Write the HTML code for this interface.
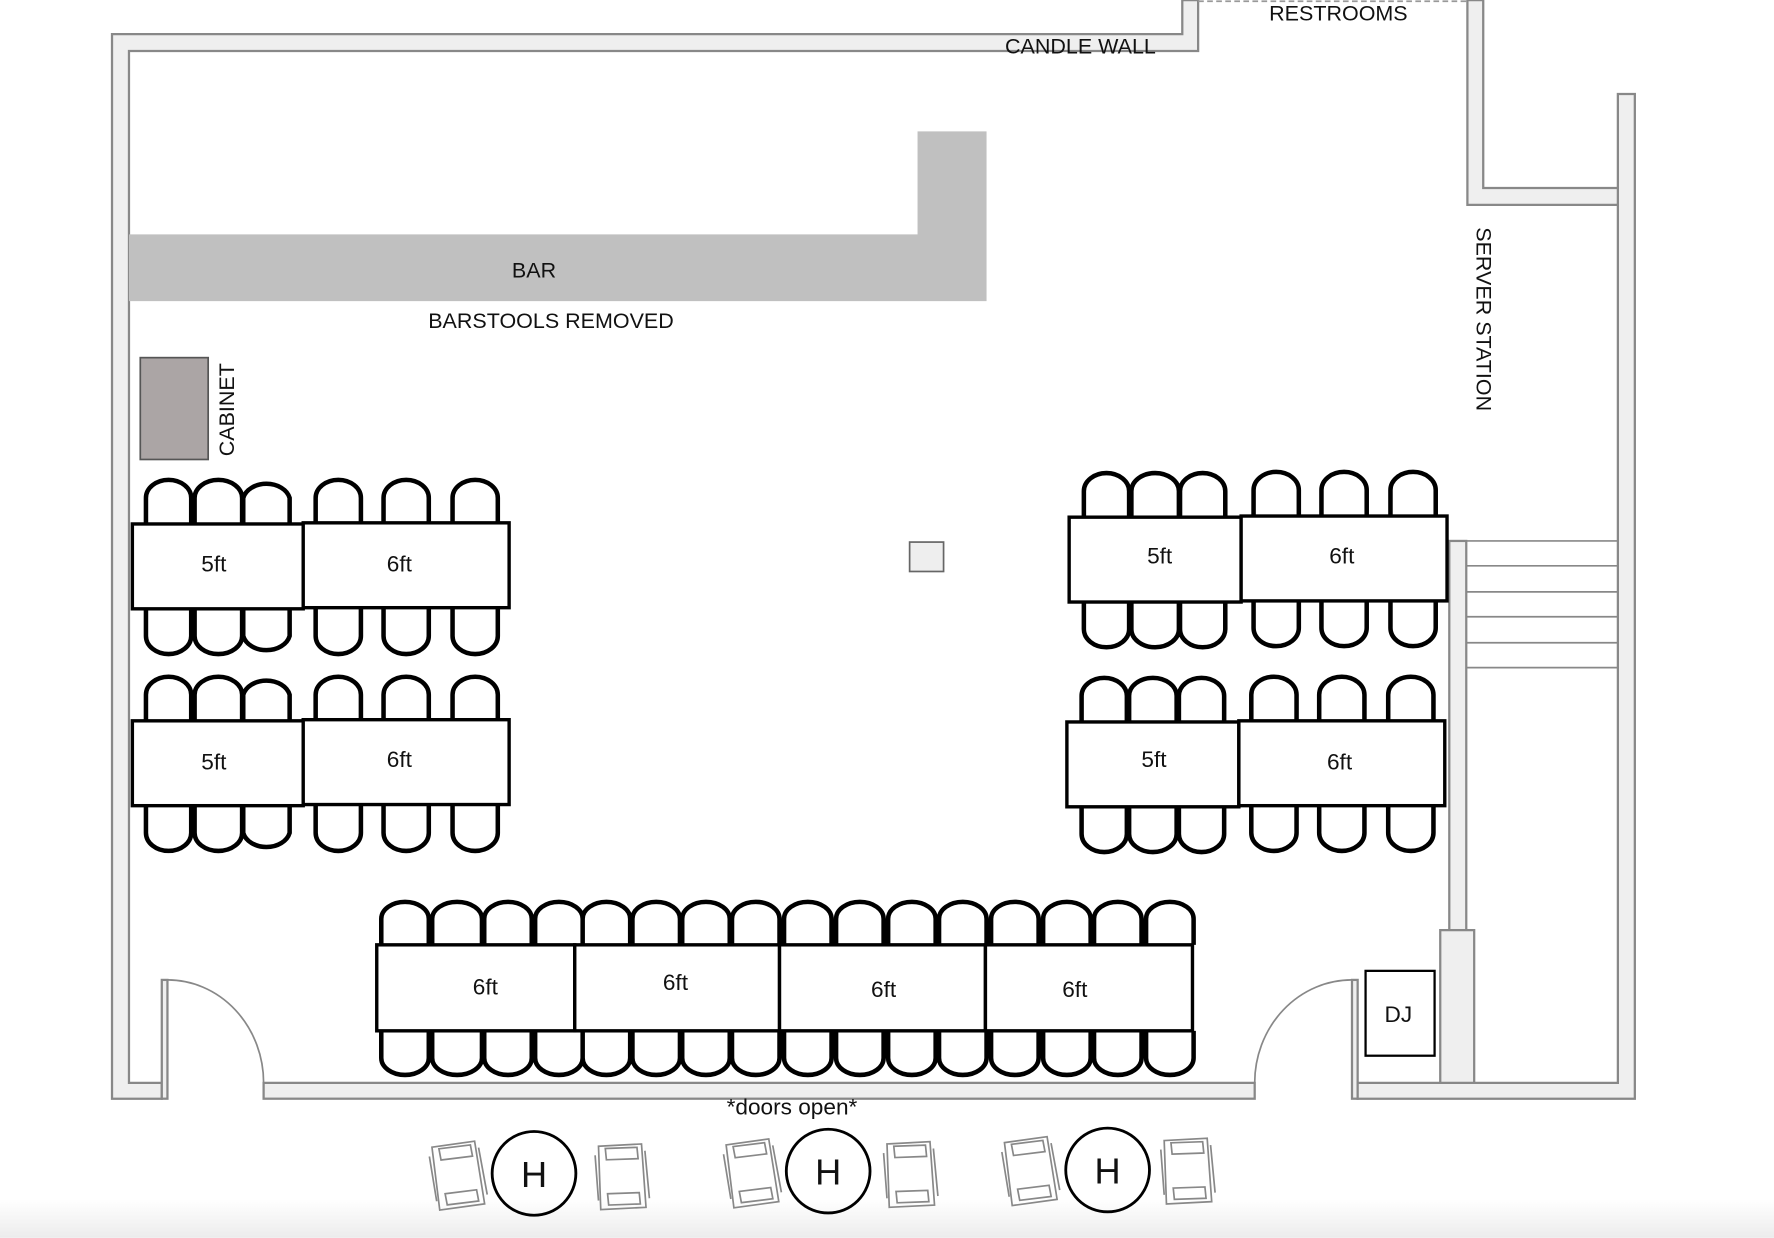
<!DOCTYPE html>
<html><head><meta charset="utf-8"><style>html,body{margin:0;padding:0;background:#fff}svg{display:block}text{font-family:"Liberation Sans",sans-serif;fill:#111}</style></head><body>
<svg width="1774" height="1238" viewBox="0 0 1568 1094" xmlns="http://www.w3.org/2000/svg">
<defs>
<linearGradient id="fade" x1="0" y1="0" x2="0" y2="1"><stop offset="0" stop-color="#fff"/><stop offset="1" stop-color="#ececec"/></linearGradient>
<g id="ac" fill="none" stroke="#888" stroke-width="1.5">
<path d="M-20,-26 L18,-28 L22,28 L-18,30 Z"/><path d="M-14,-24 L14,-25 L15,-15 L-13,-14 Z"/><path d="M-12,16 L16,15 L17,25 L-11,26 Z"/><path d="M-23,-18 L-20,22 M21,-22 L25,20"/>
</g>
</defs>
<rect x="0" y="1060" width="1568" height="34" fill="url(#fade)"/>
<g fill="#efefef" stroke="#888" stroke-width="2">
<path d="M99,30 H1045 V0 H1059 V45 H114 V957 H143 V971 H99 Z"/>
<rect x="143" y="866" width="5" height="105"/>
<rect x="233" y="957" width="876" height="14"/>
<rect x="1195" y="866" width="5" height="105"/>
<path d="M1200,957 H1430 V83 H1445 V971 H1200 Z"/>
<path d="M1297,0 H1311 V166 H1430 V181 H1297 Z"/>
<rect x="1281" y="478" width="15" height="344"/>
<rect x="1273" y="822" width="30" height="135"/>
</g>
<line x1="1059" y1="1" x2="1297" y2="1" stroke="#999" stroke-width="1.5" stroke-dasharray="5,3"/>
<g stroke="#888" stroke-width="1.5" fill="none">
<path d="M1296,478 H1430 M1296,500 H1430 M1296,523 H1430 M1296,545 H1430 M1296,568 H1430 M1296,590 H1430"/>
<path d="M148,866 A85,91 0 0 1 233,957"/>
<path d="M1195,866 A86,91 0 0 0 1109,957"/>
</g>
<path d="M114,207 H811 V116 H872 V266 H114 Z" fill="#c0c0c0"/>
<text x="472" y="245" font-size="19" text-anchor="middle">BAR</text>
<text x="487" y="290" font-size="19" text-anchor="middle">BARSTOOLS REMOVED</text>
<text x="955" y="47" font-size="19" text-anchor="middle">CANDLE WALL</text>
<text x="1183" y="18" font-size="19" text-anchor="middle">RESTROOMS</text>
<rect x="124" y="316" width="60" height="90" fill="#aba5a5" stroke="#555" stroke-width="1.5"/>
<text transform="translate(207,362) rotate(-90)" font-size="19" text-anchor="middle">CABINET</text>
<text transform="translate(1305,282) rotate(90)" font-size="19" text-anchor="middle">SERVER STATION</text>
<rect x="804" y="479" width="30" height="26" fill="#eee" stroke="#666" stroke-width="1.5"/>
<g fill="#fff" stroke="#000" stroke-width="4">
<path d="M129,463V440A20,16 0 0 1 169,440V463M172,463V440A21,16 0 0 1 214,440V463M215,463V440A21,16 0 0 1 256,440V463"/>
<path d="M279,463V440A20,16 0 0 1 319,440V463M339,463V440A20,16 0 0 1 379,440V463M400,463V440A20,16 0 0 1 440,440V463"/>
<path d="M129,538V562A20,16 0 0 0 169,562V538M172,538V562A21,16 0 0 0 214,562V538M215,538V562A21,16 0 0 0 256,562V538"/>
<path d="M279,538V562A20,16 0 0 0 319,562V538M339,538V562A20,16 0 0 0 379,562V538M400,538V562A20,16 0 0 0 440,562V538"/>
<path d="M129,637V614A20,16 0 0 1 169,614V637M172,637V614A21,16 0 0 1 214,614V637M215,637V614A21,16 0 0 1 256,614V637"/>
<path d="M279,637V614A20,16 0 0 1 319,614V637M339,637V614A20,16 0 0 1 379,614V637M400,637V614A20,16 0 0 1 440,614V637"/>
<path d="M129,712V736A20,16 0 0 0 169,736V712M172,712V736A21,16 0 0 0 214,736V712M215,712V736A21,16 0 0 0 256,736V712"/>
<path d="M279,712V736A20,16 0 0 0 319,736V712M339,712V736A20,16 0 0 0 379,736V712M400,712V736A20,16 0 0 0 440,736V712"/>
<path d="M958,457V434A20,16 0 0 1 998,434V457M1000,457V434A21,16 0 0 1 1042,434V457M1043,457V434A20,16 0 0 1 1083,434V457"/>
<path d="M1108,456V433A20,16 0 0 1 1148,433V456M1168,456V433A20,16 0 0 1 1208,433V456M1229,456V433A20,16 0 0 1 1269,433V456"/>
<path d="M958,532V556A20,16 0 0 0 998,556V532M1000,532V556A21,16 0 0 0 1042,556V532M1043,532V556A20,16 0 0 0 1083,556V532"/>
<path d="M1108,531V555A20,16 0 0 0 1148,555V531M1168,531V555A20,16 0 0 0 1208,555V531M1229,531V555A20,16 0 0 0 1269,555V531"/>
<path d="M956,638V615A20,16 0 0 1 996,615V638M998,638V615A21,16 0 0 1 1040,615V638M1042,638V615A20,16 0 0 1 1082,615V638"/>
<path d="M1106,637V614A20,16 0 0 1 1146,614V637M1166,637V614A20,16 0 0 1 1206,614V637M1227,637V614A20,16 0 0 1 1267,614V637"/>
<path d="M956,713V737A20,16 0 0 0 996,737V713M998,713V737A21,16 0 0 0 1040,737V713M1042,713V737A20,16 0 0 0 1082,737V713"/>
<path d="M1106,712V736A20,16 0 0 0 1146,736V712M1166,712V736A20,16 0 0 0 1206,736V712M1227,712V736A20,16 0 0 0 1267,736V712"/>
<path d="M337,835V812A21,15 0 0 1 379,812V835M382,835V812A22,15 0 0 1 426,812V835M428,835V812A21,15 0 0 1 470,812V835M473,835V812A21,15 0 0 1 515,812V835M515,835V812A21,15 0 0 1 557,812V835M559,835V812A21,15 0 0 1 601,812V835M603,835V812A21,15 0 0 1 645,812V835M647,835V812A21,15 0 0 1 689,812V835M693,835V812A21,15 0 0 1 735,812V835M739,835V812A21,15 0 0 1 781,812V835M785,835V812A21,15 0 0 1 827,812V835M830,835V812A21,15 0 0 1 872,812V835M876,835V812A21,15 0 0 1 918,812V835M922,835V812A21,15 0 0 1 964,812V835M967,835V812A21,15 0 0 1 1009,812V835M1013,835V812A21,15 0 0 1 1055,812V835"/>
<path d="M337,911V935A21,15 0 0 0 379,935V911M382,911V935A22,15 0 0 0 426,935V911M428,911V935A21,15 0 0 0 470,935V911M473,911V935A21,15 0 0 0 515,935V911M515,911V935A21,15 0 0 0 557,935V911M559,911V935A21,15 0 0 0 601,935V911M603,911V935A21,15 0 0 0 645,935V911M647,911V935A21,15 0 0 0 689,935V911M693,911V935A21,15 0 0 0 735,935V911M739,911V935A21,15 0 0 0 781,935V911M785,911V935A21,15 0 0 0 827,935V911M830,911V935A21,15 0 0 0 872,935V911M876,911V935A21,15 0 0 0 918,935V911M922,911V935A21,15 0 0 0 964,935V911M967,911V935A21,15 0 0 0 1009,935V911M1013,911V935A21,15 0 0 0 1055,935V911"/>
</g>
<g fill="#fff" stroke="#000" stroke-width="3">
<rect x="117" y="463" width="151" height="75"/><rect x="268" y="462" width="182" height="75"/>
<rect x="117" y="637" width="151" height="75"/><rect x="268" y="636" width="182" height="75"/>
<rect x="945" y="457" width="152" height="75"/><rect x="1097" y="456" width="182" height="75"/>
<rect x="943" y="638" width="152" height="75"/><rect x="1095" y="637" width="182" height="75"/>
<rect x="333" y="835" width="175" height="76"/><rect x="508" y="835" width="181" height="76"/>
<rect x="689" y="835" width="182" height="76"/><rect x="871" y="835" width="183" height="76"/>
<rect x="1207" y="858" width="61" height="75" stroke-width="2"/>
</g>
<g font-size="20" text-anchor="middle">
<text x="189" y="505">5ft</text><text x="353" y="505">6ft</text>
<text x="189" y="680">5ft</text><text x="353" y="678">6ft</text>
<text x="1025" y="498">5ft</text><text x="1186" y="498">6ft</text>
<text x="1020" y="678">5ft</text><text x="1184" y="680">6ft</text>
<text x="429" y="879">6ft</text><text x="597" y="875">6ft</text><text x="781" y="881">6ft</text><text x="950" y="881">6ft</text>
<text x="1236" y="903">DJ</text>
<text x="700" y="985">*doors open*</text>
</g>
<g fill="none" stroke="#000" stroke-width="2.5">
<circle cx="472" cy="1037" r="37"/><circle cx="732" cy="1035" r="37"/><circle cx="979" cy="1034" r="37"/>
</g>
<g font-size="32" text-anchor="middle">
<text x="472" y="1049">H</text><text x="732" y="1047">H</text><text x="979" y="1046">H</text>
</g>
<use href="#ac" transform="translate(404,1038) rotate(-5)"/>
<use href="#ac" transform="translate(549,1039)"/>
<use href="#ac" transform="translate(664,1036) rotate(-5)"/>
<use href="#ac" transform="translate(804,1037)"/>
<use href="#ac" transform="translate(910,1034) rotate(-5)"/>
<use href="#ac" transform="translate(1049,1034)"/>
</svg>
</body></html>
